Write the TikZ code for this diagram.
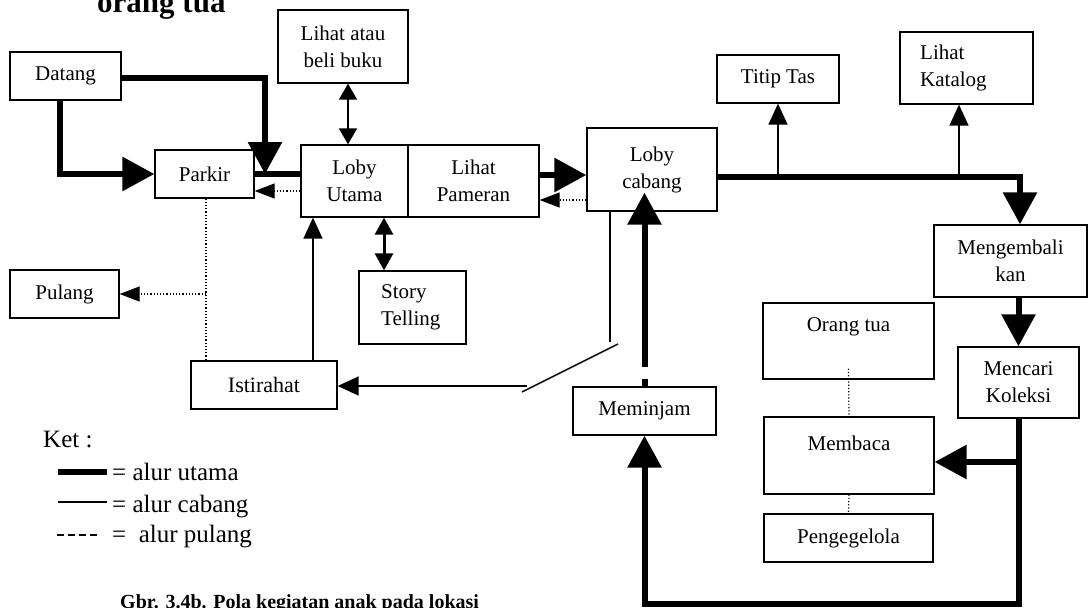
\documentclass[tikz,border=0pt]{standalone}
\usepackage{fontspec}
\setmainfont{Liberation Serif}
\usetikzlibrary{arrows.meta}
\begin{document}
\begin{tikzpicture}[x=1pt,y=-1pt,
  box/.style={draw, line width=1.3pt, inner sep=0pt, align=center,
    font=\fontsize{21}{27}\selectfont},
  lbl/.style={inner sep=0pt, align=center, font=\fontsize{21}{27}\selectfont},
  legtext/.style={inner sep=0pt, anchor=base west, font=\fontsize{25}{30}\selectfont},
  mainline/.style={line width=6pt},
  main/.style={line width=6pt, -{Triangle[width=33pt,length=32pt]}},
  branchline/.style={line width=1.5pt},
  branch/.style={line width=1.5pt, -{Triangle[width=19pt,length=21pt]}},
  dbl/.style={line width=1.5pt, {Triangle[width=18pt,length=16pt]}-{Triangle[width=18pt,length=16pt]}},
  dblthick/.style={line width=3pt, {Triangle[width=18pt,length=17pt]}-{Triangle[width=18pt,length=17pt]}},
  dotline/.style={line width=1.2pt, dotted},
  back/.style={line width=1.2pt, dotted, -{Triangle[width=15pt,length=20pt]}},
]
\clip (0,0) rectangle (1088,608);
\fill[white] (0,0) rectangle (1088,608);

% heading and caption (partly outside the page)
\node[inner sep=0pt, anchor=base west, font=\fontsize{31}{36}\selectfont\bfseries] (head) at (97,12) {orang tua};
\node[inner sep=0pt, anchor=base west, font=\fontsize{20}{24}\selectfont\bfseries] (caption) at (120,608) {Gbr. 3.4b. Pola kegiatan anak pada lokasi};

% boxes
\node[box, minimum width=111pt, minimum height=48pt] (datang) at (65.5,76) {Datang};
\node[box, minimum width=99pt, minimum height=48pt] (parkir) at (204.5,174) {Parkir};
\node[box, minimum width=130pt, minimum height=73pt] (buku) at (343,46.5) {Lihat atau\\beli buku};
\node[box, minimum width=107pt, minimum height=72pt] (lobyu) at (354.5,181) {Loby\\Utama};
\node[box, minimum width=131pt, minimum height=72pt] (pameran) at (473.5,181) {Lihat\\Pameran};
\node[box, minimum width=130pt, minimum height=83pt] (lobyc) at (652,169.5) {Loby\\cabang};
\node[box, minimum width=122pt, minimum height=48pt] (titip) at (778,79) {Titip Tas};
\node[box, minimum width=133pt, minimum height=72pt] (katalog) at (966.5,68) {};
\node[lbl, anchor=west, align=left] (katalogtxt) at (920,68) {Lihat\\Katalog};
\node[box, minimum width=153pt, minimum height=72pt] (kembali) at (1010.5,261) {Mengembali\\kan};
\node[box, minimum width=121pt, minimum height=71pt] (mencari) at (1018.5,382.5) {Mencari\\Koleksi};
\node[box, minimum width=171pt, minimum height=76pt] (ortu) at (848.5,341) {};
\node[lbl] (ortutxt) at (848.5,327) {Orang tua};
\node[box, minimum width=170pt, minimum height=77pt] (membaca) at (849,455.5) {};
\node[lbl] (membacatxt) at (849,443) {Membaca};
\node[box, minimum width=169pt, minimum height=48pt] (kelola) at (848.5,538) {Pengegelola};
\node[box, minimum width=143pt, minimum height=48pt] (pinjam) at (644.5,411) {Meminjam};
\node[box, minimum width=109pt, minimum height=48pt] (pulang) at (64.5,294) {Pulang};
\node[box, minimum width=107pt, minimum height=73pt] (story) at (412.5,307.5) {};
\node[lbl, anchor=west, align=left] (storytxt) at (381,307.5) {Story\\Telling};
\node[box, minimum width=146pt, minimum height=48pt, font=\fontsize{22}{27}\selectfont] (istirahat) at (264,385) {Istirahat};

% main route: arrival
\coordinate (join) at (265,174);
\coordinate (dout) at ([yshift=-2pt]datang.east);
\draw[mainline] (parkir.east) -- (parkir.east -| lobyu.west);
\draw[main] (dout) -- (join |- dout) -- (join);
\draw[main] ([xshift=-5.5pt]datang.south) |- (parkir.west);

% main lobby links
\draw[dbl] ([xshift=5pt]buku.south) -- ([xshift=5pt]buku.south |- lobyu.north);
\draw[back] ([yshift=-10pt]lobyu.west) -- ([yshift=-10pt]lobyu.west -| parkir.east);
\draw[dblthick] ([xshift=29.5pt]lobyu.south) -- ([xshift=29.5pt]lobyu.south |- story.north);
\draw[branch] ([xshift=49pt]istirahat.north) -- ([xshift=49pt]istirahat.north |- lobyu.south);

% going home
\coordinate (ptop) at ([xshift=1.5pt]parkir.south);
\draw[dotline] (ptop) -- (ptop |- istirahat.north);
\coordinate (pdot) at (ptop |- pulang.east);
\draw[back] (pdot) -- (pulang.east);

% exhibition to branch lobby
\draw[main] ([yshift=6pt]pameran.east) -- ([yshift=6pt]pameran.east -| lobyc.west);
\draw[back] ([yshift=-30.5pt]lobyc.west) -- ([yshift=-30.5pt]lobyc.west -| pameran.east);

% branch lobby to rest area
\coordinate (cdown) at ([xshift=-42pt]lobyc.south);
\coordinate (cbend) at (610,342);
\coordinate (slantA) at (618,344);
\coordinate (slantB) at (522,392);
\coordinate (restin) at (527,386);
\draw[branchline] (cdown) -- (cbend);
\draw[branchline] (slantA) -- (slantB);
\draw[branch] (restin) -- (restin -| istirahat.east);

% borrowing back to branch lobby
\draw[main] ([yshift=19pt]pinjam.north) -- ([yshift=19pt]pinjam.north |- lobyc.south);
\draw[mainline] ([yshift=7pt]pinjam.north) -- (pinjam.north);

% main route to the collection
\coordinate (bus) at ([yshift=-7.5pt]lobyc.east);
\draw[main] (bus) -| ([xshift=9.5pt]kembali.north);
\draw[branch] (titip.south |- bus) -- (titip.south);
\draw[branch] ([xshift=-7.5pt]katalog.south |- bus) -- ([xshift=-7.5pt]katalog.south);
\draw[main] (kembali.south -| mencari.north) -- (mencari.north);

% reading and borrowing
\coordinate (loopc) at (1018.5,604);
\draw[main] (mencari.south) -- (loopc) -| (pinjam.south);
\coordinate (mb) at ([yshift=-6.5pt]membaca.east);
\draw[main] (mencari.south |- mb) -- (mb);
\draw[dotline] ([yshift=11pt]ortu.south) -- (membaca.north);
\draw[dotline] (membaca.south) -- (kelola.north);

% legend
\node[legtext] (ket) at (43,447) {Ket :};
\coordinate (l1a) at (58,472); \coordinate (l1b) at (107,472);
\draw[mainline] (l1a) -- (l1b);
\node[legtext] (leg1) at (112,480) {= alur utama};
\coordinate (l2a) at (58,502); \coordinate (l2b) at (107,502);
\draw[branchline] (l2a) -- (l2b);
\node[legtext] (leg2) at (112,512) {= alur cabang};
\coordinate (l3a) at (57,535); \coordinate (l3b) at (97,535);
\draw[line width=1.2pt, dash pattern=on 7pt off 4pt] (l3a) -- (l3b);
\node[legtext] (leg3) at (112,542) {=\ \ alur pulang};
\end{tikzpicture}
\end{document}
